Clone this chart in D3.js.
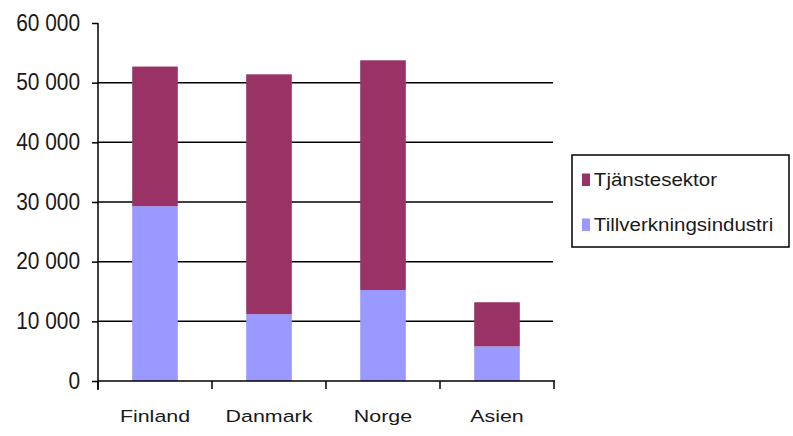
<!DOCTYPE html>
<meta charset="utf-8">
<script src="https://d3js.org/d3.v7.min.js"></script>
<style>
  body { margin: 0; background: #fff; }
</style>
<div id="my_dataviz"></div>
<script>

// data
var categories = ["Finland", "Danmark", "Norge", "Asien"];
var tillverkning = [29300, 11200, 15250, 5800];   // Tillverkningsindustri (bottom)
var tjanste = [23400, 40200, 38500, 7400];        // Tjänstesektor (top)
var yTicks = [0, 10000, 20000, 30000, 40000, 50000, 60000];
var seriesNames = ["Tillverkningsindustri", "Tjänstesektor"];

var color = d3.scaleOrdinal()
  .domain(seriesNames)
  .range(["#9999ff", "#993366"]);

var svg = d3.select("#my_dataviz")
  .append("svg")
    .attr("width", 793)
    .attr("height", 436);

// scales
var x = d3.scaleBand()
  .domain(categories)
  .range([98, 554])
  .paddingInner(0.6)
  .paddingOuter(0.3);

var y = d3.scaleLinear()
  .domain([0, 60000])
  .range([381, 23]);

// gridlines (no line at the top value)
svg.append("g")
  .selectAll("line")
  .data(yTicks.filter(function(d){ return d > 0 && d < 60000; }))
  .enter()
  .append("line")
    .attr("x1", 98)
    .attr("x2", 553)
    .attr("y1", function(d){ return y(d); })
    .attr("y2", function(d){ return y(d); })
    .attr("stroke", "#000")
    .attr("stroke-width", 1.5);

// stacked bars
var rows = categories.map(function(c, i){
  return { cat: c, "Tillverkningsindustri": tillverkning[i], "Tjänstesektor": tjanste[i] };
});
var stacked = d3.stack().keys(seriesNames)(rows);

svg.append("g")
  .selectAll("g")
  .data(stacked)
  .enter()
  .append("g")
    .attr("fill", function(d){ return color(d.key); })
  .selectAll("rect")
  .data(function(d){ return d; })
  .enter()
  .append("rect")
    .attr("x", function(d){ return x(d.data.cat); })
    .attr("y", function(d){ return y(d[1]); })
    .attr("height", function(d){ return y(d[0]) - y(d[1]); })
    .attr("width", x.bandwidth());

// Y axis
var yAxis = svg.append("g")
  .attr("transform", "translate(98,0)")
  .call(d3.axisLeft(y).tickValues(yTicks).tickSize(6).tickSizeOuter(0)
    .tickFormat(function(d){ return d3.format(",")(d).replace(",", " "); }));
yAxis.select(".domain").remove();
yAxis.selectAll("line").attr("stroke", "#000").attr("stroke-width", 1.5);
yAxis.selectAll("text")
  .attr("x", -20.7)
  .attr("dy", "0.3em")
  .attr("transform", "scale(0.87,1)")
  .style("font-family", "'Liberation Sans', Arial, sans-serif")
  .style("font-size", "24px")
  .attr("fill", "#1a1a1a");

// vertical axis line, running a little below zero
svg.append("line")
  .attr("x1", 98).attr("x2", 98)
  .attr("y1", 23).attr("y2", 390)
  .attr("stroke", "#000")
  .attr("stroke-width", 1.5);

// X axis: ticks sit between categories
var xAxis = svg.append("g")
  .attr("transform", "translate(0,381)");
xAxis.append("line")
  .attr("x1", 98).attr("x2", 555)
  .attr("stroke", "#000")
  .attr("stroke-width", 1.5);
var bounds = categories.map(function(c){ return x(c) - x.step() * x.paddingOuter(); });
bounds.push(x.range()[1]);
xAxis.selectAll("line.tick")
  .data(bounds)
  .enter()
  .append("line")
    .attr("class", "tick")
    .attr("x1", function(d){ return d; })
    .attr("x2", function(d){ return d; })
    .attr("y1", 0)
    .attr("y2", 8)
    .attr("stroke", "#000")
    .attr("stroke-width", 1.5);
xAxis.selectAll("g.label")
  .data(categories)
  .enter()
  .append("g")
    .attr("class", "label")
    .attr("transform", function(d){ return "translate(" + (x(d) + x.bandwidth() / 2) + ",41)"; })
  .append("text")
    .attr("transform", "scale(1.26,1)")
    .attr("text-anchor", "middle")
    .style("font-family", "'Liberation Sans', Arial, sans-serif")
    .style("font-size", "17px")
    .attr("fill", "#1a1a1a")
    .text(function(d){ return d; });

// legend
var legend = svg.append("g");
legend.append("rect")
  .attr("x", 572)
  .attr("y", 155)
  .attr("width", 217)
  .attr("height", 92)
  .attr("fill", "#fff")
  .attr("stroke", "#000")
  .attr("stroke-width", 1.5);

var legendItems = ["Tjänstesektor", "Tillverkningsindustri"];
var item = legend.selectAll("g.item")
  .data(legendItems)
  .enter()
  .append("g")
    .attr("class", "item")
    .attr("transform", function(d, i){ return "translate(582," + (186 + i * 45) + ")"; });
item.append("rect")
  .attr("x", 0)
  .attr("y", -12.5)
  .attr("width", 8)
  .attr("height", 12.5)
  .attr("fill", function(d){ return color(d); });
item.append("text")
  .attr("x", 11)
  .attr("transform", "scale(1.08,1)")
  .style("font-family", "'Liberation Sans', Arial, sans-serif")
  .style("font-size", "19px")
  .attr("fill", "#1a1a1a")
  .text(function(d){ return d; });

</script>
